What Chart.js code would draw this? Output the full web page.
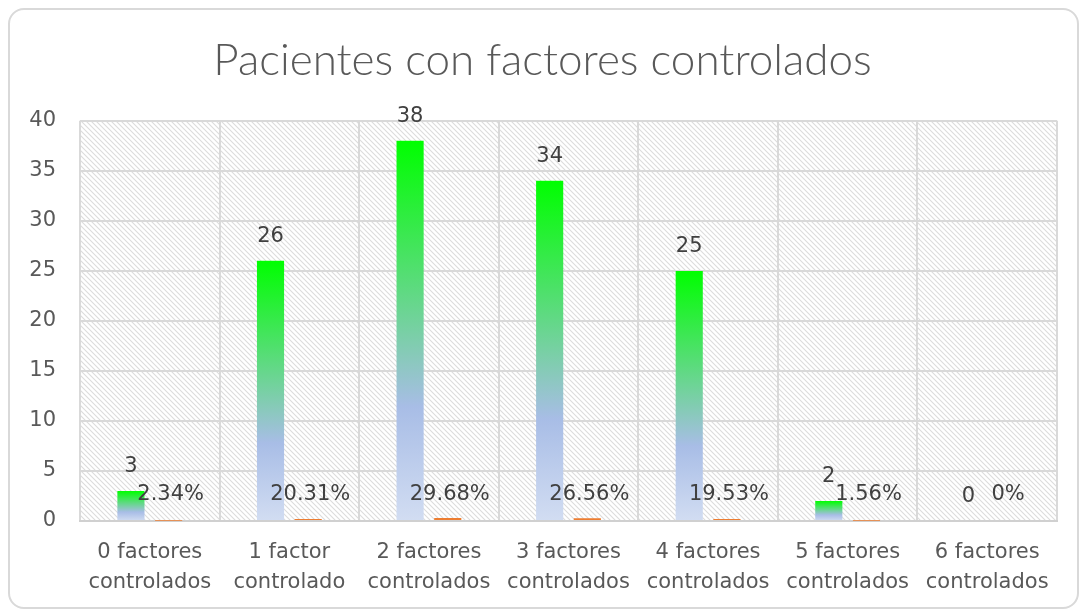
<!DOCTYPE html>
<html>
<head>
<meta charset="utf-8">
<script src="https://cdn.jsdelivr.net/npm/chart.js@4.4.0/dist/chart.umd.min.js"></script>
<style>
    html, body { margin: 0; padding: 0; background: #fff; }
    #wrap {
        position: absolute; left: 8px; top: 8px;
        width: 1071px; height: 601px;
        border: 2px solid #d9d9d9; border-radius: 16px;
        box-sizing: border-box; overflow: hidden;
    }
    #chart { position: absolute; left: 0; top: 0; }
</style>
</head>
<body>
<div id="wrap"><canvas id="chart" width="1067" height="597"></canvas></div>
<script>
// Data
const categories = [
    ['0 factores', 'controlados'],
    ['1 factor', 'controlado'],
    ['2 factores', 'controlados'],
    ['3 factores', 'controlados'],
    ['4 factores', 'controlados'],
    ['5 factores', 'controlados'],
    ['6 factores', 'controlados']
];
const patientCounts = [3, 26, 38, 34, 25, 2, 0];
const patientShares = [0.0234, 0.2031, 0.2968, 0.2656, 0.1953, 0.0156, 0];
const yTicks = [0, 5, 10, 15, 20, 25, 30, 35, 40];

// Hatched plot background
function makeHatch() {
    const c = document.createElement('canvas');
    c.width = 5; c.height = 5;
    const g = c.getContext('2d');
    g.fillStyle = '#ffffff';
    g.fillRect(0, 0, 5, 5);
    g.strokeStyle = '#dcdcdc';
    g.lineWidth = 1.1;
    g.beginPath();
    g.moveTo(-1, -1); g.lineTo(6, 6);
    g.moveTo(-1, 4); g.lineTo(1, 6);
    g.moveTo(4, -1); g.lineTo(6, 1);
    g.stroke();
    return g.createPattern(c, 'repeat');
}

const hatchBg = {
    id: 'hatchBg',
    beforeDraw(chart) {
        const a = chart.chartArea;
        const ctx = chart.ctx;
        ctx.save();
        ctx.fillStyle = makeHatch();
        ctx.fillRect(a.left, a.top, a.right - a.left, a.bottom - a.top);
        ctx.restore();
    }
};

// Value labels
const valueLabels = {
    id: 'valueLabels',
    afterDatasetsDraw(chart) {
        const ctx = chart.ctx;
        const y = chart.scales.y;
        ctx.save();
        ctx.font = '21px "DejaVu Sans"';
        ctx.fillStyle = '#404040';
        ctx.textAlign = 'center';
        ctx.textBaseline = 'bottom';
        chart.getDatasetMeta(0).data.forEach((bar, i) => {
            ctx.fillText(String(patientCounts[i]), bar.x, bar.y - 14);
        });
        chart.getDatasetMeta(1).data.forEach((bar, i) => {
            const pct = Math.round(patientShares[i] * 10000) / 100;
            ctx.fillText(pct + '%', bar.x + 2, y.getPixelForValue(0) - 16);
        });
        ctx.restore();
    }
};

function barGradient(context) {
    const chart = context.chart;
    const a = chart.chartArea;
    if (!a) return '#00ff00';
    const y = chart.scales.y;
    const base = y.getPixelForValue(0);
    const top = y.getPixelForValue(patientCounts[context.dataIndex]);
    if (base - top < 1) return '#00ff00';
    const g = chart.ctx.createLinearGradient(0, top, 0, base);
    g.addColorStop(0, '#00ff00');
    g.addColorStop(0.7, '#a8bde6');
    g.addColorStop(1, '#d2ddf2');
    return g;
}

new Chart(document.getElementById('chart'), {
    type: 'bar',
    data: {
        labels: categories,
        datasets: [{
            label: 'Pacientes',
            data: patientCounts,
            backgroundColor: barGradient,
            categoryPercentage: 0.54,
            barPercentage: 0.72
        }, {
            label: 'Porcentaje',
            data: patientShares,
            backgroundColor: '#ed7d31',
            categoryPercentage: 0.54,
            barPercentage: 0.72
        }]
    },
    options: {
        responsive: false,
        animation: false,
        layout: { padding: { left: 18, right: 20, top: 8, bottom: 10 } },
        plugins: {
            legend: { display: false },
            tooltip: { enabled: false },
            title: {
                display: true,
                text: 'Pacientes con factores controlados',
                color: '#595959',
                font: { family: 'Lato', size: 44, weight: '300', lineHeight: 1.2 },
                padding: { top: 16, bottom: 34 }
            }
        },
        scales: {
            x: {
                grid: { color: '#d9d9d9', lineWidth: 2, drawTicks: false },
                border: { color: '#d0d0d0', width: 2 },
                ticks: { color: '#595959', font: { family: 'DejaVu Sans', size: 21, lineHeight: 1.43 }, padding: 17, maxRotation: 0 },
                afterFit: s => { s.height = 76; s.paddingLeft = 0; s.paddingRight = 0; }
            },
            y: {
                min: 0, max: 40,
                afterBuildTicks: axis => { axis.ticks = yTicks.map(v => ({ value: v })); },
                grid: { color: '#d9d9d9', lineWidth: 2, drawTicks: false },
                border: { display: false },
                ticks: { color: '#595959', font: { family: 'DejaVu Sans', size: 21 }, padding: 24 },
                afterFit: s => { s.width = 52; }
            }
        }
    },
    plugins: [hatchBg, valueLabels]
});
</script>
</body>
</html>
